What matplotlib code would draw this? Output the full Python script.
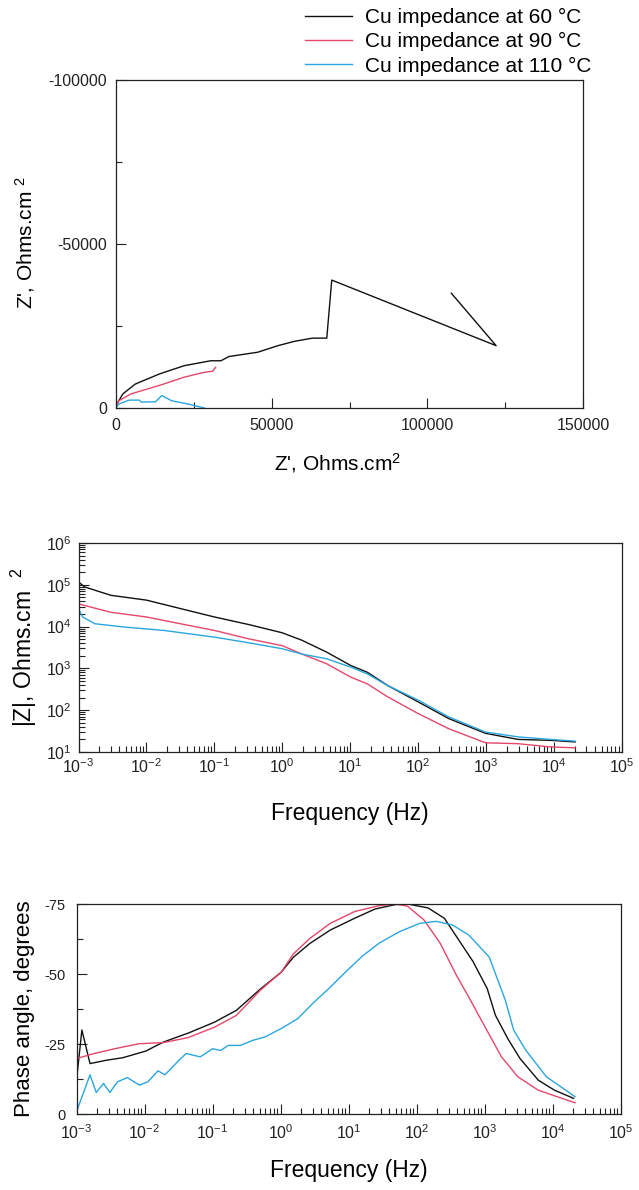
import matplotlib
matplotlib.use("Agg")
import matplotlib.pyplot as plt
from matplotlib.ticker import FixedLocator, LogLocator, NullFormatter, FuncFormatter

plt.rcParams['font.family'] = ['Liberation Sans', 'DejaVu Sans']
plt.rcParams['mathtext.default'] = 'regular'
plt.rcParams['axes.unicode_minus'] = False

labels = ["Cu impedance at 60 \u00b0C", "Cu impedance at 90 \u00b0C", "Cu impedance at 110 \u00b0C"]
colors = ["#111111", "#e5476a", "#2aa6de"]

# ---- Nyquist data (Z' , Z'') ----
nyq_re_60 = [500, 900, 2200, 6200, 14000, 21900, 30400, 33700, 36300, 45500, 52000, 57200, 63100, 67700, 69300, 122100, 107700]
nyq_im_60 = [-1500, -2200, -4300, -7300, -10400, -12900, -14400, -14400, -15700, -17000, -19000, -20300, -21300, -21300, -39000, -19000, -35000]
nyq_re_90 = [300, 900, 4800, 10100, 15300, 21900, 28400, 31000, 32000]
nyq_im_90 = [-1000, -2200, -4300, -5800, -7300, -9400, -10900, -11200, -12400]
nyq_re_110 = [0, 900, 4200, 7500, 8100, 12700, 14700, 17900, 23200, 28400]
nyq_im_110 = [0, -1200, -2400, -2400, -1800, -1900, -3800, -2200, -1200, 0]

# ---- Bode |Z| ----
bode_freq = [1e-3, 1.23e-3, 3.0e-3, 1e-2, 3.16e-2, 0.1, 0.32, 1.0, 1.95, 4.5, 10.2, 17.8, 35.5, 100, 282, 977, 2950, 8900, 2.04e4]
zmod_60 = [1.17e5, 8.9e4, 5.6e4, 4.3e4, 2.7e4, 1.7e4, 1.12e4, 7.1e3, 4.7e3, 2.45e3, 1.17e3, 8.1e2, 3.9e2, 1.58e2, 63, 28, 20, 19, 17.4]
zmod_90 = [3.5e4, 3.2e4, 2.2e4, 1.7e4, 1.17e4, 8.1e3, 5.1e3, 3.5e3, 2.2e3, 1.29e3, 617, 427, 209, 83, 36, 16.6, 15.8, 13.2, 12.6]
bode_freq_110 = [1e-3, 1.15e-3, 1.74e-3, 4.6e-3, 1.8e-2, 1e-1, 0.32, 1.0, 1.95, 4.5, 10.2, 17.8, 35.5, 100, 282, 977, 2950, 8900, 2.04e4]
zmod_110 = [2.7e4, 1.7e4, 1.17e4, 9.8e3, 8.1e3, 5.6e3, 4.1e3, 2.95e3, 2.2e3, 1.7e3, 1.07e3, 741, 389, 174, 69, 30, 23, 20, 18.2]

# ---- Phase ----
ph_freq_60 = [1e-3, 1.2e-3, 1.58e-3, 2.75e-3, 4.8e-3, 1.05e-2, 1.9e-2, 4.4e-2, 0.107, 0.224, 0.51, 1.02, 1.55, 2.7, 5.4, 12.3, 24.5, 49, 74, 148, 257, 389, 676, 1096, 1445, 2190, 3310, 6170, 1.07e4, 2.04e4]
ph_60 = [-12, -30, -18, -19.2, -20.1, -22.5, -25.7, -28.9, -32.8, -37.0, -44.7, -50.6, -56.0, -60.9, -65.7, -69.9, -73.2, -74.8, -75.0, -73.6, -69.9, -63.3, -54.5, -44.8, -35.3, -27.0, -19.9, -12.1, -8.5, -5.6]
ph_freq_90 = [1e-3, 1.82e-3, 3.63e-3, 8.3e-3, 1.9e-2, 4.4e-2, 0.107, 0.224, 0.51, 1.02, 1.55, 2.7, 5.4, 12.3, 28.2, 49, 74, 129, 224, 389, 589, 1023, 1778, 3090, 6170, 2.14e4]
ph_90 = [-19.8, -21.6, -23.3, -25.1, -25.5, -27.3, -31.0, -35.2, -44.3, -50.6, -57.2, -62.7, -68.1, -72.3, -74.4, -75.0, -74.2, -69.3, -60.9, -49.4, -41.7, -31.0, -20.4, -13.3, -8.5, -4.0]
ph_freq_110 = [1e-3, 1.58e-3, 1.95e-3, 2.5e-3, 3.1e-3, 4.0e-3, 5.6e-3, 8.4e-3, 1.12e-2, 1.58e-2, 2.0e-2, 3.16e-2, 4.1e-2, 6.6e-2, 0.1, 0.132, 0.17, 0.257, 0.39, 0.59, 1.02, 1.78, 3.1, 5.4, 9.3, 16.2, 28.2, 56, 112, 195, 339, 589, 1175, 2040, 2690, 4070, 8130, 2.14e4]
ph_110 = [-0.8, -14, -7.7, -10.9, -7.7, -11.5, -13, -10.3, -11.5, -15.4, -14, -19, -21.6, -20.4, -23.3, -22.7, -24.5, -24.5, -26.3, -27.5, -30.5, -34.0, -39.9, -45.3, -51.0, -56.5, -61.0, -65.1, -68.1, -68.8, -67.5, -63.9, -56.0, -40.4, -29.9, -22.7, -13.3, -6.2]

fig = plt.figure(figsize=(6.39, 11.90), dpi=100)
W, H = 639.0, 1190.0

def add_ax(l, r, t, b):
    return fig.add_axes([l / W, 1 - b / H, (r - l) / W, (b - t) / H])

ax1 = add_ax(116, 583, 80, 408)
ax2 = add_ax(78.5, 622, 543, 752)
ax3 = add_ax(76.5, 620.5, 904, 1114)

lw = 1.0
for ax in (ax1, ax2, ax3):
    for s in ax.spines.values():
        s.set_linewidth(0.9)
        s.set_color("#222222")
    ax.tick_params(which='both', direction='in', top=False, right=False, colors="#222222")
    ax.tick_params(which='major', length=7, width=0.8)
    ax.tick_params(which='minor', length=4.3, width=0.8)

# Panel 1: Nyquist
l60, = ax1.plot(nyq_re_60, nyq_im_60, color=colors[0], lw=lw)
l90, = ax1.plot(nyq_re_90, nyq_im_90, color=colors[1], lw=lw)
l110, = ax1.plot(nyq_re_110, nyq_im_110, color=colors[2], lw=lw)
ax1.set_xlim(0, 150000)
ax1.set_ylim(0, -100000)
ax1.xaxis.set_major_locator(FixedLocator([0, 50000, 100000, 150000]))
ax1.xaxis.set_minor_locator(FixedLocator([25000, 75000, 125000]))
ax1.yaxis.set_major_locator(FixedLocator([0, -50000, -100000]))
ax1.yaxis.set_minor_locator(FixedLocator([-25000, -75000]))
ax1.xaxis.set_major_formatter(FuncFormatter(lambda v, p: "%d" % v))
ax1.yaxis.set_major_formatter(FuncFormatter(lambda v, p: "%d" % v))
ax1.tick_params(axis='both', which='major', labelsize=11.5)
ax1.tick_params(axis='x', which='major', pad=7)
ax1.tick_params(axis='y', which='major', pad=6.5)
ax1.set_xlabel("Z', Ohms.cm$^{2}$", fontsize=15, va='center')
ax1.xaxis.set_label_coords(0.475, -0.168)
ax1.set_ylabel("Z', Ohms.cm $^{2}$", fontsize=15, va='center')
ax1.yaxis.set_label_coords(-0.195, 0.506)

fig.legend([l60, l90, l110], labels, loc='upper left', bbox_to_anchor=(305 / W, 1 - 8 / H),
           frameon=False, fontsize=15, handlelength=2.25, handletextpad=0.62,
           labelspacing=0.25, borderpad=0, borderaxespad=0)

# Panel 2: |Z|
ax2.plot(bode_freq, zmod_60, color=colors[0], lw=lw)
ax2.plot(bode_freq, zmod_90, color=colors[1], lw=lw)
ax2.plot(bode_freq_110, zmod_110, color=colors[2], lw=lw)
ax2.set_xscale('log')
ax2.set_yscale('log')
ax2.set_xlim(1e-3, 1e5)
ax2.set_ylim(10, 1e6)

for ax in (ax2, ax3):
    ax.xaxis.set_major_locator(LogLocator(base=10, numticks=20))
    ax.xaxis.set_minor_locator(LogLocator(base=10, subs=range(2, 10), numticks=20))
    ax.xaxis.set_minor_formatter(NullFormatter())
    ax.tick_params(axis='x', which='major', labelsize=11.5)
    ax.set_xlabel("Frequency (Hz)", fontsize=16.5, va='center')
ax2.yaxis.set_major_locator(LogLocator(base=10, numticks=20))
ax2.yaxis.set_minor_locator(LogLocator(base=10, subs=range(2, 10), numticks=20))
ax2.yaxis.set_minor_formatter(NullFormatter())
ax2.tick_params(axis='y', which='major', labelsize=11.5)
ax2.tick_params(axis='x', which='major', pad=4)
ax2.tick_params(axis='y', which='major', pad=5)
ax2.xaxis.set_label_coords(0.499, -0.292)
ax2.set_ylabel("|Z|, Ohms.cm  $^{2}$", fontsize=16.5, va='center')
ax2.yaxis.set_label_coords(-0.1, 0.5)

# Panel 3: phase
ax3.plot(ph_freq_60, ph_60, color=colors[0], lw=lw)
ax3.plot(ph_freq_90, ph_90, color=colors[1], lw=lw)
ax3.plot(ph_freq_110, ph_110, color=colors[2], lw=lw)
ax3.set_xscale('log')
ax3.set_xlim(1e-3, 1e5)
ax3.set_ylim(0, -75)
ax3.yaxis.set_major_locator(FixedLocator([0, -25, -50, -75]))
ax3.yaxis.set_minor_locator(FixedLocator([-12.5, -37.5, -62.5]))
ax3.yaxis.set_major_formatter(FuncFormatter(lambda v, p: "%d" % v))
ax3.tick_params(axis='y', which='major', labelsize=10.5, pad=8)
ax3.tick_params(axis='x', which='major', pad=7)
ax3.xaxis.set_label_coords(0.5, -0.267)
ax3.set_ylabel("Phase angle, degrees", fontsize=16, va='center')
ax3.yaxis.set_label_coords(-0.096, 0.5)

fig.savefig("out.png", dpi=100)
